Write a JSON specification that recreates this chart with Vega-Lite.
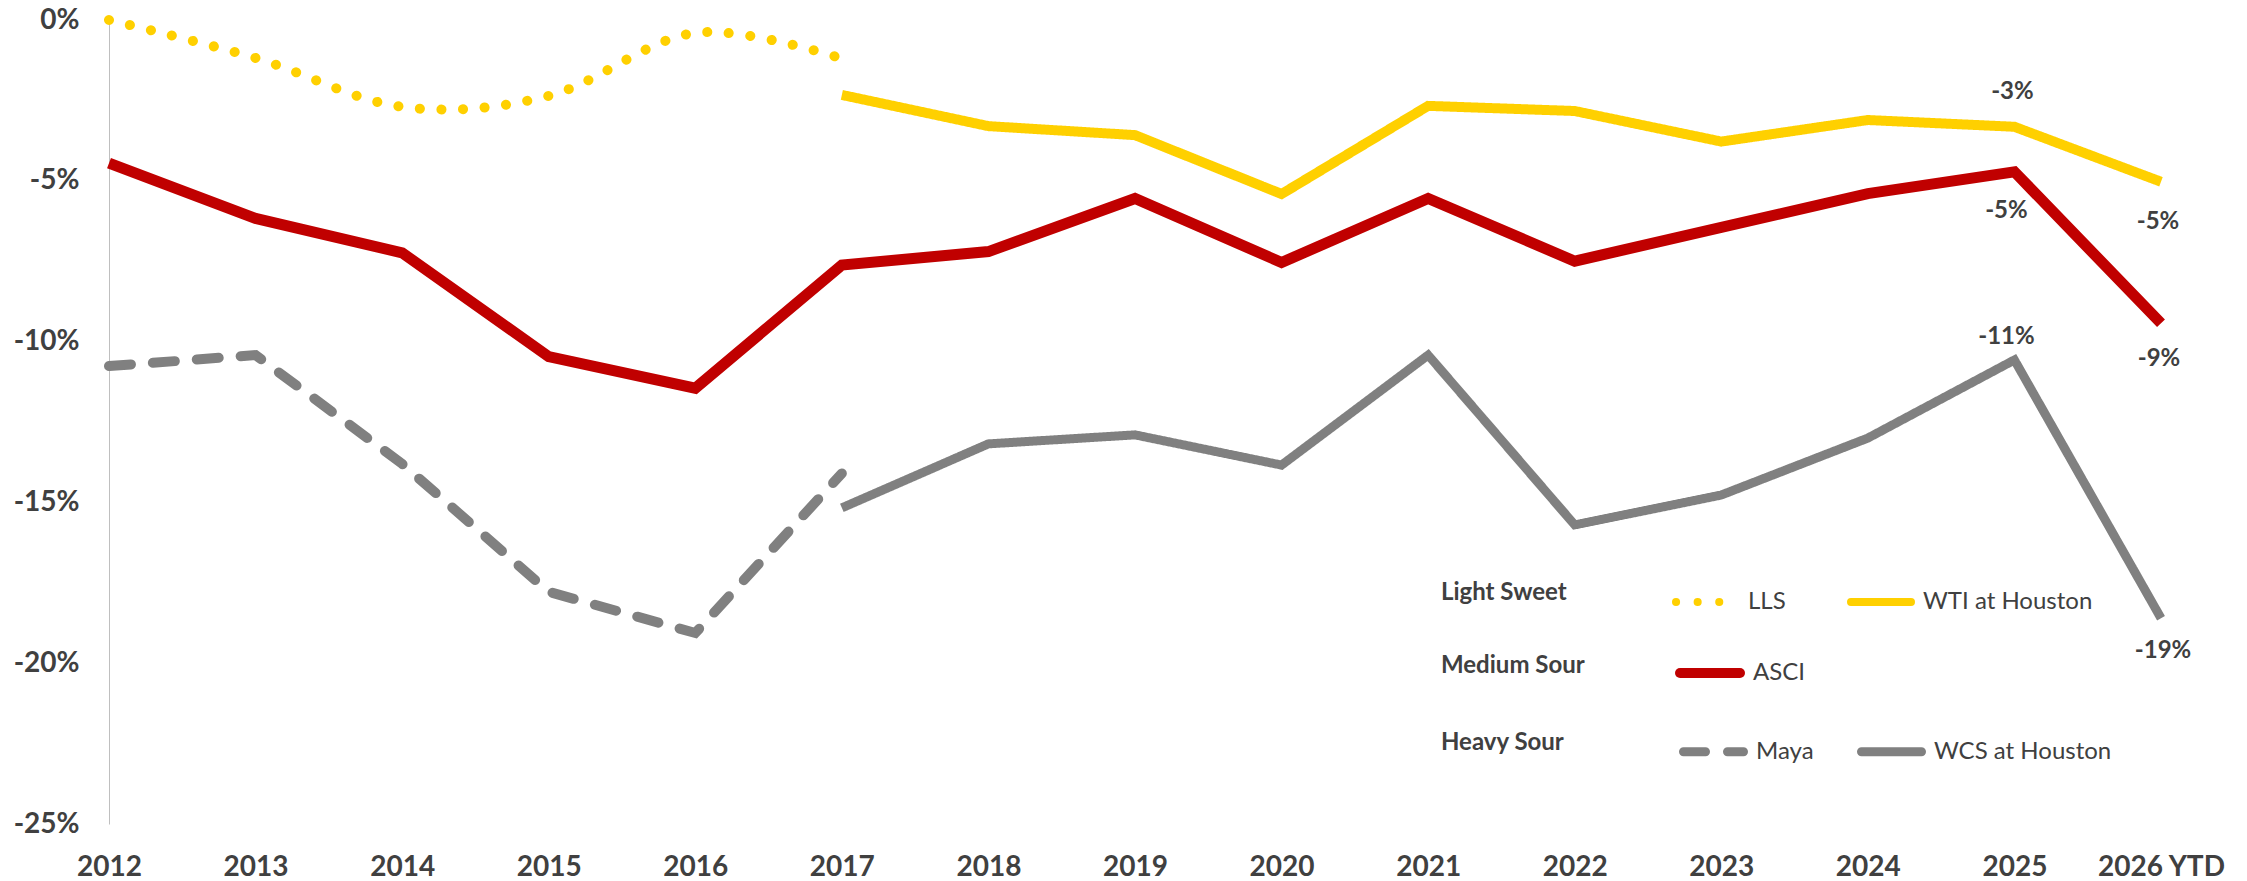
{
  "$schema": "https://vega.github.io/schema/vega-lite/v6.json",
  "width": 2052,
  "height": 804,
  "autosize": {"type": "none"},
  "padding": {"left": 109, "top": 20, "right": 86, "bottom": 57},
  "background": "white",
  "config": {
    "view": {"stroke": null},
    "font": "Lato",
    "text": {"font": "Lato"}
  },
  "data": {
    "values": [
      {"year": "2012", "series": "LLS", "value": 0},
      {"year": "2013", "series": "LLS", "value": -1.18},
      {"year": "2014", "series": "LLS", "value": -2.7},
      {"year": "2015", "series": "LLS", "value": -2.36},
      {"year": "2016", "series": "LLS", "value": -0.4},
      {"year": "2017", "series": "LLS", "value": -1.2},
      {"year": "2017", "series": "WTI at Houston", "value": -2.33},
      {"year": "2018", "series": "WTI at Houston", "value": -3.3},
      {"year": "2019", "series": "WTI at Houston", "value": -3.58},
      {"year": "2020", "series": "WTI at Houston", "value": -5.41},
      {"year": "2021", "series": "WTI at Houston", "value": -2.67},
      {"year": "2022", "series": "WTI at Houston", "value": -2.83},
      {"year": "2023", "series": "WTI at Houston", "value": -3.78},
      {"year": "2024", "series": "WTI at Houston", "value": -3.11},
      {"year": "2025", "series": "WTI at Houston", "value": -3.32},
      {"year": "2026 YTD", "series": "WTI at Houston", "value": -5.03},
      {"year": "2012", "series": "ASCI", "value": -4.45},
      {"year": "2013", "series": "ASCI", "value": -6.17},
      {"year": "2014", "series": "ASCI", "value": -7.24},
      {"year": "2015", "series": "ASCI", "value": -10.47},
      {"year": "2016", "series": "ASCI", "value": -11.45},
      {"year": "2017", "series": "ASCI", "value": -7.62},
      {"year": "2018", "series": "ASCI", "value": -7.2},
      {"year": "2019", "series": "ASCI", "value": -5.55},
      {"year": "2020", "series": "ASCI", "value": -7.54},
      {"year": "2021", "series": "ASCI", "value": -5.55},
      {"year": "2022", "series": "ASCI", "value": -7.5},
      {"year": "2023", "series": "ASCI", "value": -6.45},
      {"year": "2024", "series": "ASCI", "value": -5.4},
      {"year": "2025", "series": "ASCI", "value": -4.72},
      {"year": "2026 YTD", "series": "ASCI", "value": -9.43},
      {"year": "2012", "series": "Maya", "value": -10.76},
      {"year": "2013", "series": "Maya", "value": -10.42},
      {"year": "2014", "series": "Maya", "value": -13.8},
      {"year": "2015", "series": "Maya", "value": -17.78},
      {"year": "2016", "series": "Maya", "value": -19.06},
      {"year": "2017", "series": "Maya", "value": -14.1},
      {"year": "2017", "series": "WCS at Houston", "value": -15.17},
      {"year": "2018", "series": "WCS at Houston", "value": -13.18},
      {"year": "2019", "series": "WCS at Houston", "value": -12.9},
      {"year": "2020", "series": "WCS at Houston", "value": -13.84},
      {"year": "2021", "series": "WCS at Houston", "value": -10.42},
      {"year": "2022", "series": "WCS at Houston", "value": -15.7},
      {"year": "2023", "series": "WCS at Houston", "value": -14.77},
      {"year": "2024", "series": "WCS at Houston", "value": -13.0},
      {"year": "2025", "series": "WCS at Houston", "value": -10.57},
      {"year": "2026 YTD", "series": "WCS at Houston", "value": -18.6}
    ]
  },
  "encoding": {
    "x": {
      "field": "year", "type": "ordinal",
      "scale": {"type": "point", "padding": 0, "domain": ["2012","2013","2014","2015","2016","2017","2018","2019","2020","2021","2022","2023","2024","2025","2026 YTD"]},
      "axis": {"title": null, "domain": false, "ticks": false, "tickSize": 0, "labelAngle": 0, "labelFont": "Lato", "labelFontSize": 28, "labelFontWeight": "bold", "labelColor": "#404040", "labelBaseline": "middle", "labelPadding": 43, "grid": false}
    },
    "y": {
      "field": "value", "type": "quantitative",
      "scale": {"domain": [-25, 0], "nice": false, "zero": false},
      "axis": {"title": null, "values": [0, -5, -10, -15, -20, -25], "labelExpr": "datum.value + '%'", "grid": false, "ticks": false, "tickSize": 0, "domain": true, "domainColor": "#BFBFBF", "domainWidth": 1, "labelFont": "Lato", "labelFontSize": 28, "labelFontWeight": "bold", "labelColor": "#404040", "labelPadding": 30, "labelBaseline": "middle"}
    }
  },
  "layer": [
    {
      "encoding": {
        "color": {"field": "series", "type": "nominal",
          "scale": {"domain": ["LLS", "WTI at Houston"], "range": ["#FFD000", "#FFD000"]},
          "legend": {"title": "Light Sweet", "orient": "none", "legendX": 1332, "legendY": 548, "direction": "horizontal", "titleOrient": "left", "titleFont": "Lato", "titleFontSize": 24, "titleFontWeight": "bold", "titleColor": "#404040", "titlePadding": 105, "titleBaseline": "middle", "titleAnchor": "middle", "symbolType": "stroke", "symbolSize": 3600, "symbolStrokeWidth": 8, "labelFont": "Lato", "labelFontSize": 24, "labelColor": "#404040", "labelOffset": 8, "labelLimit": 400, "columnPadding": 49, "encoding": {"symbols": {"strokeCap": {"value": "round"}}}}},
        "strokeDash": {"field": "series", "type": "nominal",
          "scale": {"domain": ["LLS", "WTI at Houston"], "range": [[0.1, 21.5], [1, 0]]},
          "legend": {"title": "Light Sweet", "orient": "none", "legendX": 1332, "legendY": 548, "direction": "horizontal", "titleOrient": "left", "titleFont": "Lato", "titleFontSize": 24, "titleFontWeight": "bold", "titleColor": "#404040", "titlePadding": 105, "titleBaseline": "middle", "titleAnchor": "middle", "symbolType": "stroke", "symbolSize": 3600, "symbolStrokeWidth": 8, "labelFont": "Lato", "labelFontSize": 24, "labelColor": "#404040", "labelOffset": 8, "labelLimit": 400, "columnPadding": 49, "encoding": {"symbols": {"strokeCap": {"value": "round"}}}}}
      },
      "layer": [
        {"transform": [{"filter": "datum.series === 'LLS'"}], "mark": {"type": "line", "strokeWidth": 10, "strokeCap": "round", "interpolate": "cardinal"}},
        {"transform": [{"filter": "datum.series === 'WTI at Houston'"}], "mark": {"type": "line", "strokeWidth": 10, "strokeCap": "butt"}}
      ]
    },
    {
      "encoding": {
        "color": {"field": "series", "type": "nominal",
          "scale": {"domain": ["ASCI"], "range": ["#C00000"]},
          "legend": {"title": "Medium Sour", "orient": "none", "legendX": 1332, "legendY": 618, "direction": "horizontal", "titleOrient": "left", "titleFont": "Lato", "titleFontSize": 24, "titleFontWeight": "bold", "titleColor": "#404040", "titlePadding": 90, "titleBaseline": "middle", "titleAnchor": "middle", "symbolType": "stroke", "symbolSize": 3600, "symbolStrokeWidth": 10, "labelFont": "Lato", "labelFontSize": 24, "labelColor": "#404040", "labelOffset": 8, "labelLimit": 400, "encoding": {"symbols": {"strokeCap": {"value": "round"}}}}}
      },
      "layer": [
        {"transform": [{"filter": "datum.series === 'ASCI'"}], "mark": {"type": "line", "strokeWidth": 11, "strokeCap": "butt"}}
      ]
    },
    {
      "encoding": {
        "color": {"field": "series", "type": "nominal",
          "scale": {"domain": ["Maya", "WCS at Houston"], "range": ["#808080", "#808080"]},
          "legend": {"title": "Heavy Sour", "orient": "none", "legendX": 1332, "legendY": 697, "direction": "horizontal", "titleOrient": "left", "titleFont": "Lato", "titleFontSize": 24, "titleFontWeight": "bold", "titleColor": "#404040", "titlePadding": 114, "titleBaseline": "middle", "titleAnchor": "middle", "symbolType": "stroke", "symbolSize": 3600, "symbolStrokeWidth": 9, "labelFont": "Lato", "labelFontSize": 24, "labelColor": "#404040", "labelOffset": 8, "labelLimit": 400, "columnPadding": 29, "encoding": {"symbols": {"strokeCap": {"value": "round"}}}}},
        "strokeDash": {"field": "series", "type": "nominal",
          "scale": {"domain": ["Maya", "WCS at Houston"], "range": [[22, 22], [1, 0]]},
          "legend": {"title": "Heavy Sour", "orient": "none", "legendX": 1332, "legendY": 697, "direction": "horizontal", "titleOrient": "left", "titleFont": "Lato", "titleFontSize": 24, "titleFontWeight": "bold", "titleColor": "#404040", "titlePadding": 114, "titleBaseline": "middle", "titleAnchor": "middle", "symbolType": "stroke", "symbolSize": 3600, "symbolStrokeWidth": 9, "labelFont": "Lato", "labelFontSize": 24, "labelColor": "#404040", "labelOffset": 8, "labelLimit": 400, "columnPadding": 29, "encoding": {"symbols": {"strokeCap": {"value": "round"}}}}}
      },
      "layer": [
        {"transform": [{"filter": "datum.series === 'Maya'"}], "mark": {"type": "line", "strokeWidth": 10, "strokeCap": "round"}},
        {"transform": [{"filter": "datum.series === 'WCS at Houston'"}], "mark": {"type": "line", "strokeWidth": 9, "strokeCap": "butt"}}
      ]
    },
    {
      "transform": [{"filter": "datum.series === 'WTI at Houston' && datum.year === '2025'"}, {"calculate": "round(datum.value) + '%'", "as": "label"}],
      "mark": {"type": "text", "font": "Lato", "fontSize": 24, "fontWeight": "bold", "color": "#404040", "dy": -35, "dx": -2},
      "encoding": {"text": {"field": "label"}}
    },
    {
      "transform": [{"filter": "datum.series === 'ASCI' && datum.year === '2025'"}, {"calculate": "round(datum.value) + '%'", "as": "label"}],
      "mark": {"type": "text", "font": "Lato", "fontSize": 24, "fontWeight": "bold", "color": "#404040", "dy": 39, "dx": -8},
      "encoding": {"text": {"field": "label"}}
    },
    {
      "transform": [{"filter": "datum.series === 'WCS at Houston' && datum.year === '2025'"}, {"calculate": "round(datum.value) + '%'", "as": "label"}],
      "mark": {"type": "text", "font": "Lato", "fontSize": 24, "fontWeight": "bold", "color": "#404040", "dy": -23, "dx": -8},
      "encoding": {"text": {"field": "label"}}
    },
    {
      "transform": [{"filter": "datum.series === 'WTI at Houston' && datum.year === '2026 YTD'"}, {"calculate": "round(datum.value) + '%'", "as": "label"}],
      "mark": {"type": "text", "font": "Lato", "fontSize": 24, "fontWeight": "bold", "color": "#404040", "dy": 40, "dx": -3},
      "encoding": {"text": {"field": "label"}}
    },
    {
      "transform": [{"filter": "datum.series === 'ASCI' && datum.year === '2026 YTD'"}, {"calculate": "round(datum.value) + '%'", "as": "label"}],
      "mark": {"type": "text", "font": "Lato", "fontSize": 24, "fontWeight": "bold", "color": "#404040", "dy": 36, "dx": -2},
      "encoding": {"text": {"field": "label"}}
    },
    {
      "transform": [{"filter": "datum.series === 'WCS at Houston' && datum.year === '2026 YTD'"}, {"calculate": "round(datum.value) + '%'", "as": "label"}],
      "mark": {"type": "text", "font": "Lato", "fontSize": 24, "fontWeight": "bold", "color": "#404040", "dy": 33, "dx": 2},
      "encoding": {"text": {"field": "label"}}
    }
  ],
  "resolve": {"scale": {"color": "independent", "strokeDash": "independent"}}
}
